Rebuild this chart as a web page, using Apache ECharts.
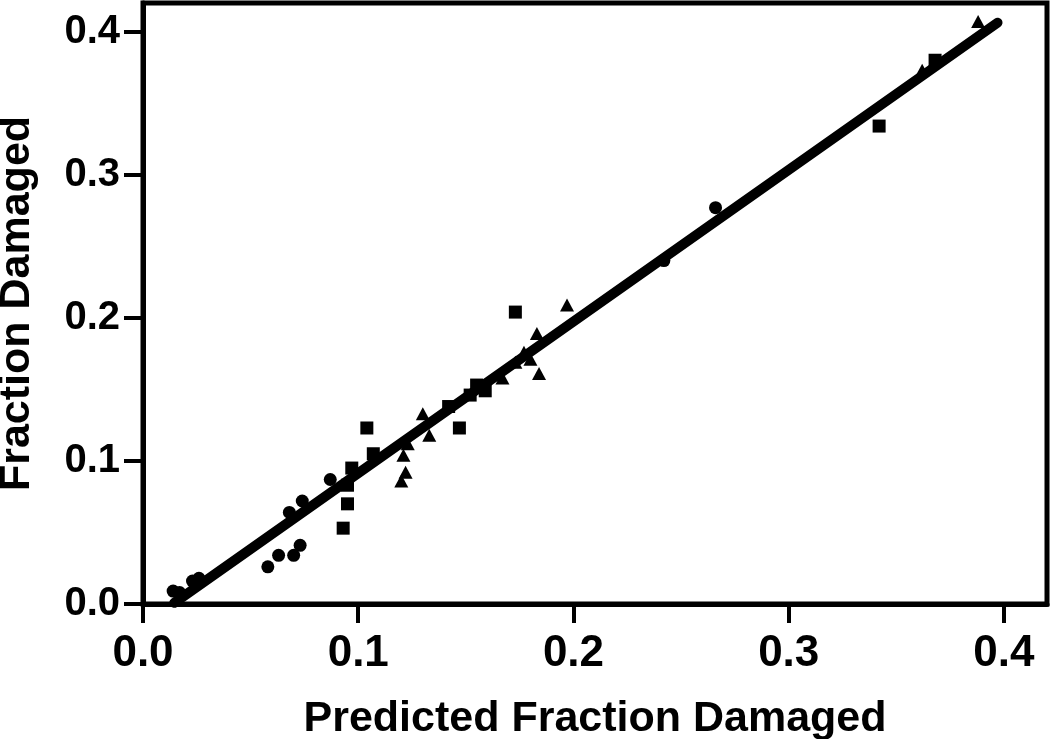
<!DOCTYPE html>
<html>
<head>
<meta charset="utf-8">
<script src="https://cdn.jsdelivr.net/npm/echarts@6/dist/echarts.min.js"></script>
<style>
html,body{margin:0;padding:0;background:#fff;}
#chart{width:1050px;height:739px;}
</style>
</head>
<body>
<div id="chart"></div>
<script>
// Data
var circleX = [0.014, 0.017, 0.023, 0.026, 0.058, 0.063, 0.070, 0.073, 0.068, 0.074, 0.087, 0.242, 0.266];
var circleY = [0.009, 0.008, 0.016, 0.018, 0.026, 0.034, 0.034, 0.041, 0.064, 0.072, 0.087, 0.240, 0.277];

var squareX = [0.104, 0.107, 0.097, 0.095, 0.095, 0.093, 0.173, 0.155, 0.159, 0.152, 0.142, 0.147, 0.342, 0.368];
var squareY = [0.123, 0.105, 0.095, 0.083, 0.070, 0.053, 0.204, 0.153, 0.149, 0.146, 0.138, 0.123, 0.334, 0.380];

var triangleX = [0.197, 0.183, 0.184, 0.177, 0.180, 0.173, 0.167, 0.130, 0.133, 0.123, 0.121, 0.122, 0.120, 0.388, 0.362];
var triangleY = [0.209, 0.189, 0.161, 0.176, 0.171, 0.169, 0.158, 0.133, 0.118, 0.112, 0.104, 0.092, 0.086, 0.407, 0.373];

var fitX = [0.0145, 0.397];
var fitY = [0.0008, 0.4062];

var tickValues = [0, 0.1, 0.2, 0.3, 0.4];
var xTitle = 'Predicted Fraction Damaged';
var yTitle = 'Fraction Damaged';

function pairs(xs, ys) { return xs.map(function (x, i) { return [x, ys[i]]; }); }

var FONT = '"Liberation Sans", Arial, Helvetica, sans-serif';

var chart = echarts.init(document.getElementById('chart'), null, {renderer: 'canvas'});
chart.setOption({
  animation: false,
  backgroundColor: '#fff',
  grid: {
    left: 143, right: 3, top: 3, bottom: 135,
    containLabel: false, outerBoundsMode: 'none',
    show: true, borderColor: '#000', borderWidth: 5, backgroundColor: 'transparent'
  },
  xAxis: {
    type: 'value', min: 0, max: 0.42, interval: 0.1,
    splitLine: {show: false},
    axisLine: {show: true, onZero: false, lineStyle: {color: '#000', width: 5}},
    axisTick: {show: true, length: 19, lineStyle: {color: '#000', width: 4}, customValues: tickValues},
    axisLabel: {
      customValues: tickValues, margin: 28, color: '#000',
      fontFamily: FONT, fontWeight: 'bold', fontSize: 44,
      formatter: function (v) { return v.toFixed(1); }
    },
    name: xTitle, nameLocation: 'middle', nameGap: 94,
    nameTextStyle: {color: '#000', fontFamily: FONT, fontWeight: 'bold', fontSize: 43}
  },
  yAxis: {
    type: 'value', min: 0, max: 0.42, interval: 0.1,
    splitLine: {show: false},
    axisLine: {show: true, onZero: false, lineStyle: {color: '#000', width: 5}},
    axisTick: {show: true, length: 19, lineStyle: {color: '#000', width: 4}, customValues: tickValues},
    axisLabel: {
      customValues: tickValues, margin: 23, color: '#000',
      fontFamily: FONT, fontWeight: 'bold', fontSize: 40,
      formatter: function (v) { return v.toFixed(1); }
    },
    name: yTitle, nameLocation: 'middle', nameGap: 104,
    nameTextStyle: {color: '#000', fontFamily: FONT, fontWeight: 'bold', fontSize: 43}
  },
  series: [
    {
      type: 'line', data: pairs(fitX, fitY), symbol: 'none', z: 1,
      lineStyle: {color: '#000', width: 10, cap: 'round'}
    },
    {
      type: 'scatter', data: pairs(circleX, circleY), symbol: 'circle', symbolSize: 13, z: 2,
      itemStyle: {color: '#000', opacity: 1}
    },
    {
      type: 'scatter', data: pairs(squareX, squareY), symbol: 'rect', symbolSize: 13, z: 2,
      itemStyle: {color: '#000', opacity: 1}
    },
    {
      type: 'scatter', data: pairs(triangleX, triangleY), symbol: 'triangle', symbolSize: [14, 13], z: 2,
      itemStyle: {color: '#000', opacity: 1}
    }
  ]
});
</script>
</body>
</html>
